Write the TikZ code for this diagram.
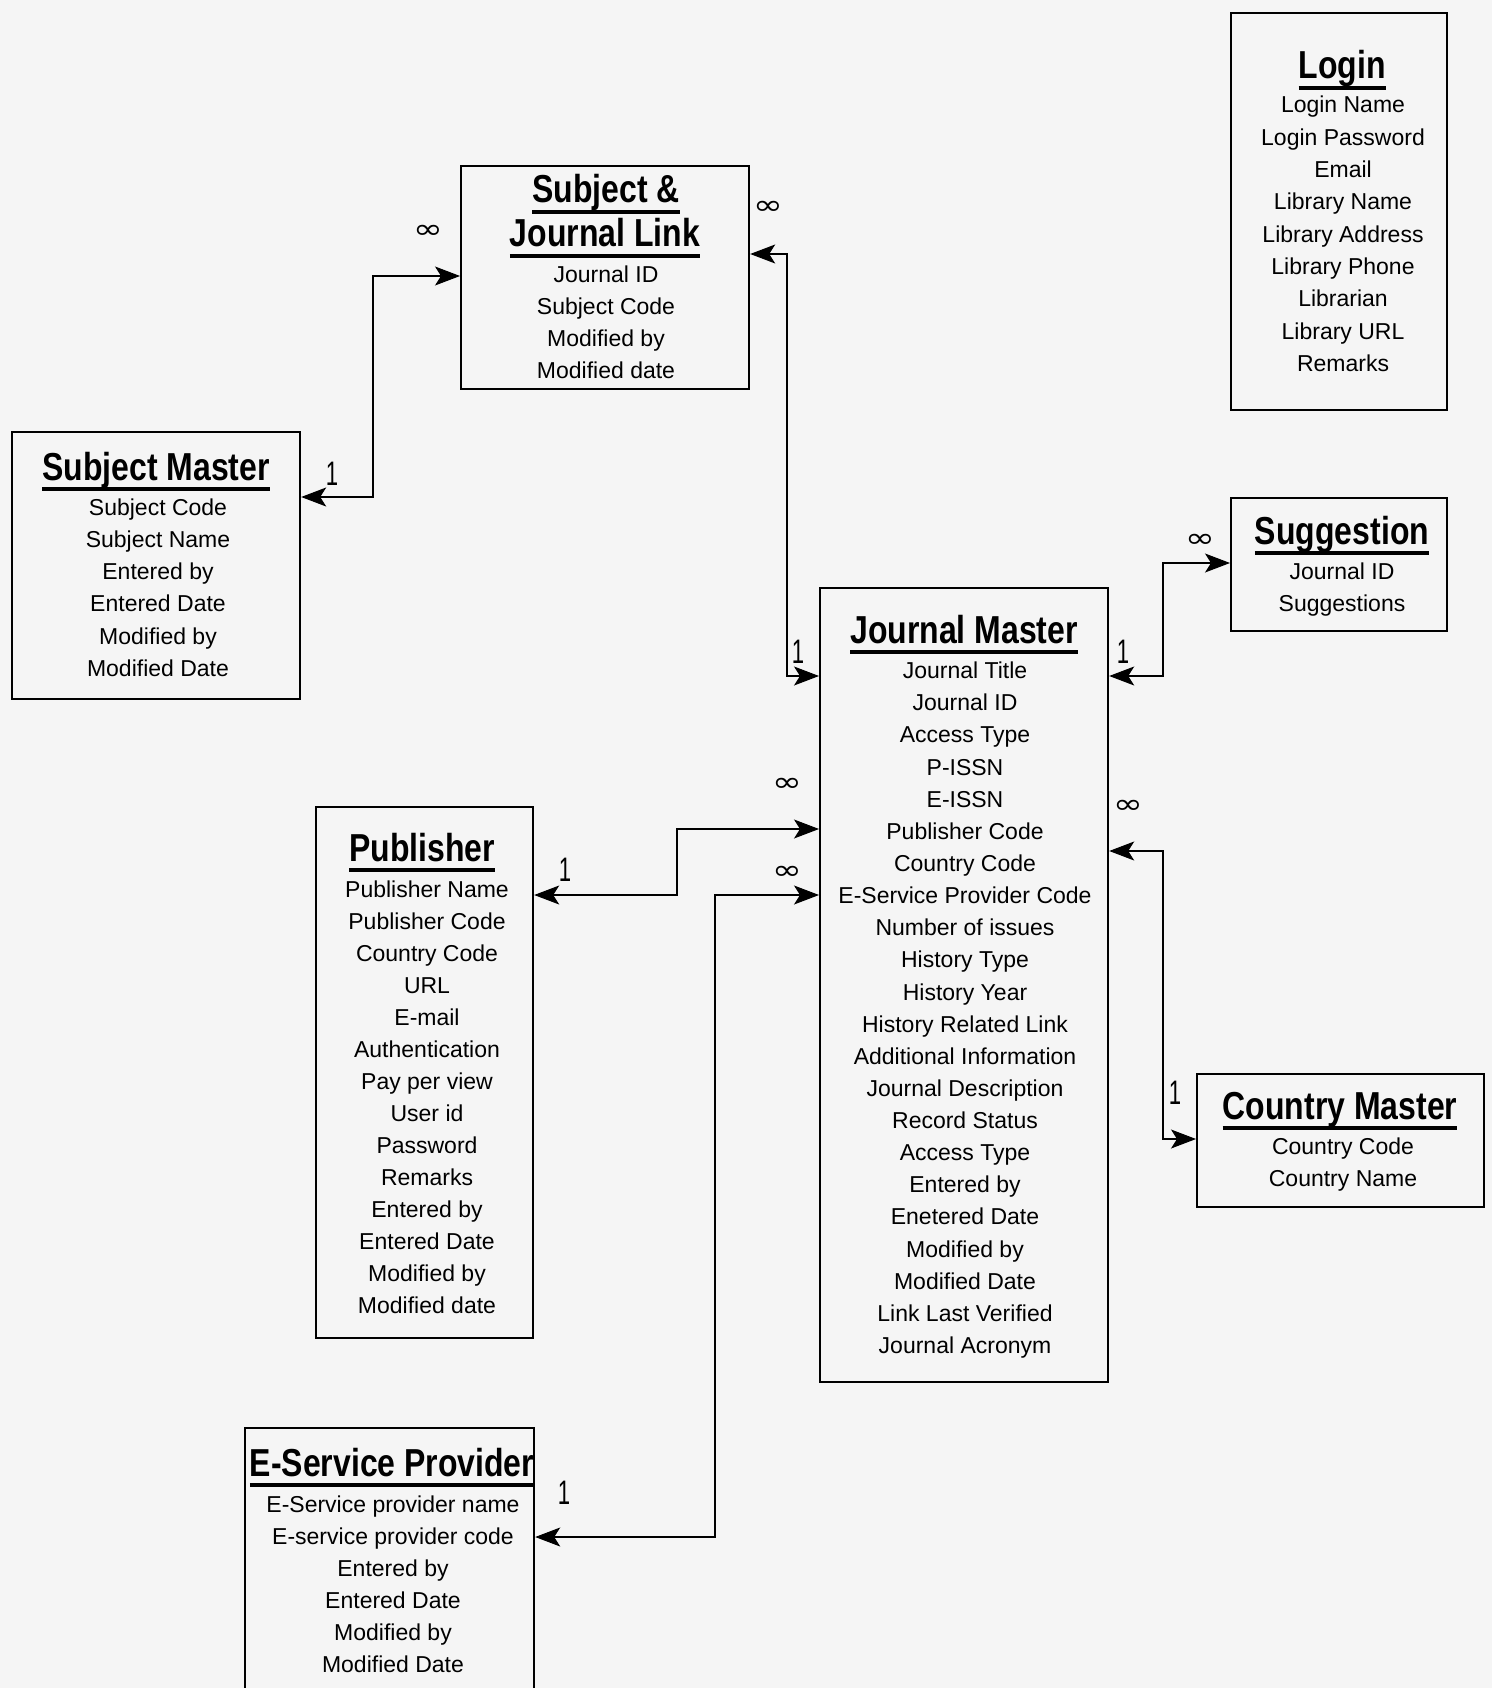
\documentclass[tikz,border=0pt]{standalone}
\usepackage{fontspec}
\usepackage{graphicx}
\setmainfont{Liberation Sans}
\newfontfamily\titlefont[FakeStretch=0.82]{Liberation Sans Bold}
\newfontfamily\onefont[FakeStretch=0.65]{Liberation Sans}
\newfontfamily\symfont{DejaVu Sans}
\usetikzlibrary{arrows.meta}
\definecolor{bgcol}{HTML}{F5F5F5}
\newcommand\ttl[1]{\setbox0=\hbox{\titlefont #1}\leavevmode\rlap{\copy0}\rule[-11pt]{\wd0}{4pt}}
\newcommand\manysym{\scalebox{1.05}[0.8]{\symfont ∞}}
\tikzset{
  box/.style={draw=black, line width=2.2pt, anchor=north west, inner sep=0pt},
  row/.style={anchor=base, inner sep=0pt, font=\fontsize{23}{25}\selectfont},
  ttlnode/.style={anchor=base, inner sep=0pt, font=\fontsize{39}{41}\selectfont},
  tipx/.tip={Stealth[length=25pt,width=19pt,inset=6pt,line width=1pt]},
  rel/.style={line width=2.2pt, tipx-tipx},
  many/.style={inner sep=0pt, font=\fontsize{34}{36}\selectfont},
  one/.style={inner sep=0pt, font=\fontsize{34}{36}\onefont},
}
\begin{document}
\begin{tikzpicture}[x=1pt,y=-1pt]
\useasboundingbox (0,0) rectangle (1492,1688);
\fill[bgcol] (0,0) rectangle (1492,1688);
\clip (0,0) rectangle (1492,1688);

% ---------- boxes ----------
\node[box, minimum width=216pt, minimum height=397pt] (login) at (1230,12) {};
\node[box, minimum width=288pt, minimum height=223pt] (sjl) at (460,165) {};
\node[box, minimum width=288pt, minimum height=267pt] (sm) at (11,431) {};
\node[box, minimum width=288pt, minimum height=794pt] (jm) at (819,587) {};
\node[box, minimum width=216pt, minimum height=133pt] (sug) at (1230,497) {};
\node[box, minimum width=217pt, minimum height=531pt] (pub) at (315,806) {};
\node[box, minimum width=287pt, minimum height=133pt] (cm) at (1196,1073) {};
\node[box, minimum width=289pt, minimum height=290pt] (esp) at (244,1427) {};

% ---------- Login ----------
\node[ttlnode] (login-t) at (1342,79) {\ttl{Login}};
\foreach \t [count=\i] in {Login Name, Login Password, Email, Library Name, Library Address, Library Phone, Librarian, Library URL, Remarks}
  \node[row] (login-\i) at (1343,{113+32.3*(\i-1)}) {\t};

% ---------- Subject & Journal Link ----------
\node[ttlnode] (sjl-t1) at (606,203) {\ttl{Subject \&}};
\node[ttlnode] (sjl-t2) at (605,247) {\ttl{Journal Link}};
\foreach \t [count=\i] in {Journal ID, Subject Code, Modified by, Modified date}
  \node[row] (sjl-\i) at (606,{282+32.1*(\i-1)}) {\t};

% ---------- Subject Master ----------
\node[ttlnode] (sm-t) at (156,480) {\ttl{Subject Master}};
\foreach \t [count=\i] in {Subject Code, Subject Name, Entered by, Entered Date, Modified by, Modified Date}
  \node[row] (sm-\i) at (158,{515+32.3*(\i-1)}) {\t};

% ---------- Suggestion ----------
\node[ttlnode] (sug-t) at (1342,544) {\ttl{Suggestion}};
\foreach \t [count=\i] in {Journal ID, Suggestions}
  \node[row] (sug-\i) at (1342,{579.5+32.3*(\i-1)}) {\t};

% ---------- Journal Master ----------
\node[ttlnode] (jm-t) at (964,643) {\ttl{Journal Master}};
\foreach \t [count=\i] in {Journal Title, Journal ID, Access Type, P-ISSN, E-ISSN, Publisher Code, Country Code, E-Service Provider Code, Number of issues, History Type, History Year, History Related Link, Additional Information, Journal Description, Record Status, Access Type, Entered by, Enetered Date, Modified by, Modified Date, Link Last Verified, Journal Acronym}
  \node[row] (jm-\i) at (965,{678.6+32.14*(\i-1)}) {\t};

% ---------- Publisher ----------
\node[ttlnode] (pub-t) at (422,861) {\ttl{Publisher}};
\foreach \t [count=\i] in {Publisher Name, Publisher Code, Country Code, URL, E-mail, Authentication, Pay per view, User id, Password, Remarks, Entered by, Entered Date, Modified by, Modified date}
  \node[row] (pub-\i) at (427,{897+32.05*(\i-1)}) {\t};

% ---------- Country Master ----------
\node[ttlnode] (cm-t) at (1340,1119) {\ttl{Country Master}};
\foreach \t [count=\i] in {Country Code, Country Name}
  \node[row] (cm-\i) at (1343,{1154.5+32.3*(\i-1)}) {\t};

% ---------- E-Service Provider ----------
\node[ttlnode] (esp-t) at (392,1476) {\ttl{E-Service Provider}};
\foreach \t [count=\i] in {E-Service provider name, E-service provider code, Entered by, Entered Date, Modified by, Modified Date}
  \node[row] (esp-\i) at (393,{1512+32*(\i-1)}) {\t};

% ---------- relationships ----------
\draw[rel] ([yshift=-66pt]sm.north east) -- ++(72,0) |- ([yshift=-111pt]sjl.north west);
\draw[rel] ([yshift=-89pt]sjl.north east) -- ++(37,0) |- ([yshift=-89pt]jm.north west);
\draw[rel] ([yshift=-89pt]jm.north east) -- ++(54,0) |- ([yshift=-66pt]sug.north west);
\draw[rel] ([yshift=-264pt]jm.north east) -- ++(54,0) |- ([yshift=-66pt]cm.north west);
\draw[rel] ([yshift=-89pt]pub.north east) -- ++(143,0) |- ([yshift=-242pt]jm.north west);
\draw[rel] ([yshift=-110pt]esp.north east) -- ++(180,0) |- ([yshift=-308pt]jm.north west);

% ---------- cardinality labels ----------
\node[one] (c1) at (332,474) {1};
\node[many] (c2) at (428,232) {\manysym};
\node[many] (c3) at (768,208) {\manysym};
\node[one] (c4) at (798,652) {1};
\node[one] (c5) at (1123,652) {1};
\node[many] (c6) at (1200,541) {\manysym};
\node[many] (c7) at (1128,807) {\manysym};
\node[one] (c8) at (1175,1093) {1};
\node[many] (c9) at (787,785) {\manysym};
\node[many] (c10) at (787,873) {\manysym};
\node[one] (c11) at (565,870) {1};
\node[one] (c12) at (564,1493) {1};
\end{tikzpicture}
\end{document}
